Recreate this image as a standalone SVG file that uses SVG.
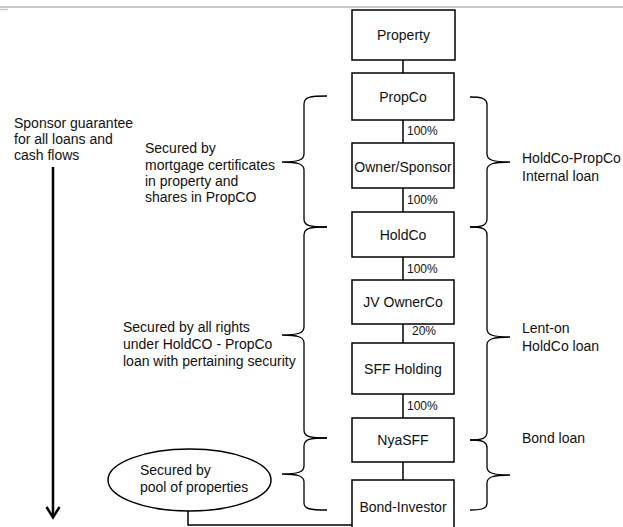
<svg xmlns="http://www.w3.org/2000/svg" width="623" height="527" viewBox="0 0 623 527">
<defs>
<style>
.box{fill:#fff;stroke:#000;stroke-width:1.5}
.t{font-family:"Liberation Sans",Arial,sans-serif;font-size:14px;fill:#111}
.c{text-anchor:middle}
.p{font-family:"Liberation Sans",Arial,sans-serif;font-size:12px;fill:#111}
.ln{stroke:#000;stroke-width:1.5;fill:none}
.br{stroke:#000;stroke-width:1.3;fill:none}
</style>
</defs>
<rect x="0" y="0" width="623" height="527" fill="#fff"/>
<line x1="0" y1="7" x2="623" y2="7" stroke="#c8c8c8" stroke-width="2"/>
<line x1="0" y1="9.5" x2="8" y2="9.5" stroke="#c8c8c8" stroke-width="1.5"/>

<g id="connectors">
<line class="ln" x1="403" y1="60" x2="403" y2="73"/>
<line class="ln" x1="403" y1="120" x2="403" y2="143"/>
<line class="ln" x1="403" y1="188" x2="403" y2="212"/>
<line class="ln" x1="403" y1="257" x2="403" y2="280"/>
<line class="ln" x1="403" y1="324" x2="403" y2="343"/>
<line class="ln" x1="403" y1="394" x2="403" y2="418"/>
<line class="ln" x1="403" y1="462" x2="403" y2="480"/>
<polyline class="ln" stroke-width="2" points="188,511 188,525 352,525"/>
<line x1="53" y1="167" x2="53" y2="516" stroke="#000" stroke-width="2.5"/>
<polyline points="46.5,507 53,517.5 59.5,507" fill="none" stroke="#000" stroke-width="2.5"/>
<text class="p" x="407" y="135">100%</text>
<text class="p" x="407" y="204">100%</text>
<text class="p" x="407" y="273">100%</text>
<text class="p" x="412" y="335">20%</text>
<text class="p" x="407" y="410">100%</text>
</g>

<g id="braces-left">
<path class="br" d="M327,96 C310,96 304,97 304,104 L304,154 C304,160 298,162 282,162 C298,162 304,164 304,170 L304,219 C304,226 310,227 327,227"/>
<path class="br" d="M327,227 C310,227 304,228 304,235 L304,327 C304,333 298,335 282,335 C298,335 304,337 304,343 L304,430 C304,437 310,438 327,438"/>
<path class="br" d="M327,438 C310,438 304,439 304,446 L304,466 C304,472 298,474 282,474 C298,474 304,476 304,482 L304,503 C304,509 310,510 327,510"/>
</g>
<g id="braces-right">
<path class="br" d="M470,97 C481,97 487,98 487,105 L487,154 C487,160 493,162 510,162 C493,162 487,164 487,170 L487,219 C487,226 481,227 470,227"/>
<path class="br" d="M470,227 C481,227 487,228 487,235 L487,329 C487,335 493,337 510,337 C493,337 487,339 487,345 L487,432 C487,439 481,440 470,440"/>
<path class="br" d="M470,440 C481,440 487,441 487,448 L487,467 C487,473 493,475 510,475 C493,475 487,477 487,483 L487,503 C487,509 481,510 470,510"/>
</g>

<g id="property"><rect class="box" x="352" y="10" width="103" height="50"/><text class="t c" x="403.5" y="40">Property</text></g>
<g id="propco"><rect class="box" x="352" y="73" width="102" height="47"/><text class="t c" x="403" y="102">PropCo</text></g>
<g id="owner-sponsor"><rect class="box" x="352" y="143" width="102" height="45"/><text class="t c" x="403" y="171.5">Owner/Sponsor</text></g>
<g id="holdco"><rect class="box" x="352" y="212" width="102" height="45"/><text class="t c" x="403" y="240">HoldCo</text></g>
<g id="jv-ownerco"><rect class="box" x="352" y="280" width="102" height="44"/><text class="t c" x="403" y="307">JV OwnerCo</text></g>
<g id="sff-holding"><rect class="box" x="352" y="343" width="102" height="51"/><text class="t c" x="403" y="373.5">SFF Holding</text></g>
<g id="nyasff"><rect class="box" x="352" y="418" width="102" height="44"/><text class="t c" x="403" y="445">NyaSFF</text></g>
<g id="bond-investor"><rect class="box" x="352" y="480" width="102" height="60"/><text class="t c" x="403" y="512">Bond-Investor</text></g>

<g id="pool-ellipse"><ellipse cx="189.5" cy="480" rx="81.5" ry="31" fill="#fff" stroke="#000" stroke-width="1.5"/>
<text class="t" x="140" y="475">Secured by</text><text class="t" x="140" y="492">pool of properties</text></g>

<g id="sponsor-note"><text class="t" x="14" y="128">Sponsor guarantee</text><text class="t" x="14" y="144">for all loans and</text><text class="t" x="14" y="160">cash flows</text></g>
<g id="mortgage-note"><text class="t" x="145" y="153">Secured by</text><text class="t" x="145" y="170">mortgage certificates</text><text class="t" x="145" y="186">in property and</text><text class="t" x="145" y="202">shares in PropCO</text></g>
<g id="rights-note"><text class="t" x="123" y="332">Secured by all rights</text><text class="t" x="123" y="349">under HoldCO - PropCo</text><text class="t" x="123" y="366">loan with pertaining security</text></g>
<g id="internal-loan"><text class="t" x="522" y="163">HoldCo-PropCo</text><text class="t" x="522" y="181">Internal loan</text></g>
<g id="lent-on"><text class="t" x="522" y="333">Lent-on</text><text class="t" x="522" y="351">HoldCo loan</text></g>
<g id="bond-loan"><text class="t" x="522" y="443">Bond loan</text></g>
</svg>
